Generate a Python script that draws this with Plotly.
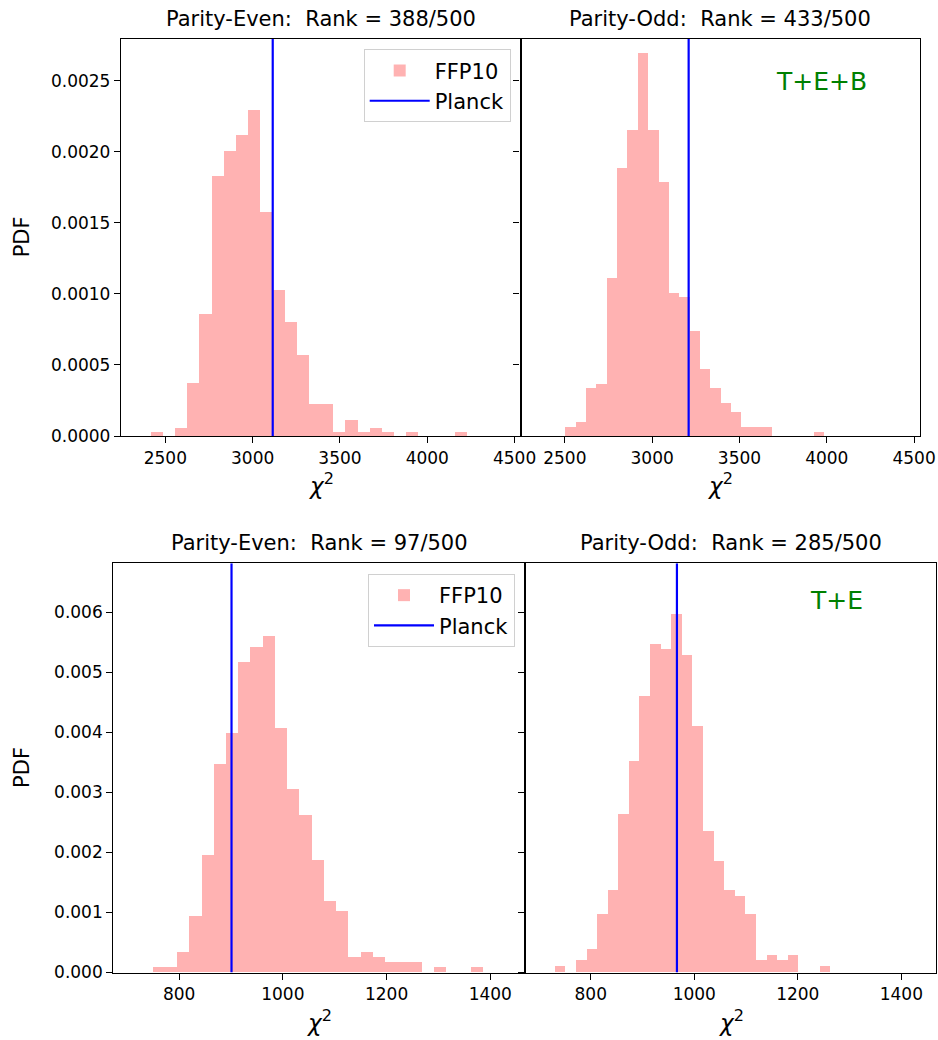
import plotly.graph_objects as go

W, H = 938, 1040
N_SIM = 500

# ---------------- data ----------------
# Top row: T+E+B
tl_title = "Parity-Even:  Rank = 388/500"
tl_edge0, tl_width = 2415.7, 69.73
tl_counts = [1, 0, 2, 13, 30, 64, 70, 74, 80, 55, 36, 28, 20, 8, 8, 1, 4, 1, 2, 1, 0, 1, 0, 0, 0, 1]
tl_planck = 3115

tr_title = "Parity-Odd:  Rank = 433/500"
tr_edge0, tr_width = 2500.0, 59.28
tr_counts = [2, 3, 10, 11, 33, 56, 64, 80, 64, 53, 30, 29, 22, 14, 10, 7, 5, 2, 2, 2, 0, 0, 0, 0, 1]
tr_planck = 3209

# Bottom row: T+E
bl_title = "Parity-Even:  Rank = 97/500"
bl_edge0, bl_width = 749.3, 23.6
bl_counts = [1, 1, 4, 11, 23, 41, 47, 61, 64, 66, 48, 36, 31, 22, 14, 12, 3, 4, 3, 2, 2, 2, 0, 1, 0, 0, 1]
bl_planck = 901

br_title = "Parity-Odd:  Rank = 285/500"
br_edge0, br_width = 730.5, 20.46
br_counts = [1, 0, 2, 4, 10, 14, 27, 36, 47, 56, 55, 61, 54, 42, 24, 19, 14, 13, 10, 2, 3, 2, 3, 0, 0, 1]
br_planck = 966.5

top_xticks = [2500, 3000, 3500, 4000, 4500]
top_yticks = [0.0, 0.0005, 0.0010, 0.0015, 0.0020, 0.0025]
top_yticklabels = ["0.0000", "0.0005", "0.0010", "0.0015", "0.0020", "0.0025"]
bot_xticks = [800, 1000, 1200, 1400]
bot_yticks = [0.0, 0.001, 0.002, 0.003, 0.004, 0.005, 0.006]
bot_yticklabels = ["0.000", "0.001", "0.002", "0.003", "0.004", "0.005", "0.006"]

top_label = "T+E+B"
bot_label = "T+E"

# ---------------- styling / layout ----------------
FONT = "DejaVu Sans"
BAR_COLOR = "rgba(255,0,0,0.3)"
LINE_COLOR = "#0000ff"
TOP_XRANGE = [2246, 4534]
TOP_YRANGE = [0, 0.002797]
BOT_XRANGE = [673, 1467]
BOT_YRANGE = [0, 0.006817]


def px_x(p):
    return p / W


def px_y(p):
    return 1 - p / H


def hist(edge0, width, counts):
    centers = [edge0 + width * (i + 0.5) for i in range(len(counts))]
    dens = [c / (N_SIM * width) for c in counts]
    return centers, dens


fig = go.Figure()

panels = [
    (tl_edge0, tl_width, tl_counts, tl_planck, "x", "y", "legend", True, TOP_YRANGE),
    (tr_edge0, tr_width, tr_counts, tr_planck, "x2", "y2", "legend", False, TOP_YRANGE),
    (bl_edge0, bl_width, bl_counts, bl_planck, "x3", "y3", "legend2", True, BOT_YRANGE),
    (br_edge0, br_width, br_counts, br_planck, "x4", "y4", "legend2", False, BOT_YRANGE),
]

for e0, w, counts, planck, xa, ya, lg, sl, yr in panels:
    cx, dens = hist(e0, w, counts)
    fig.add_trace(go.Bar(
        x=cx, y=dens, width=w, marker=dict(color=BAR_COLOR, line=dict(width=0)),
        name="FFP10", xaxis=xa, yaxis=ya, legend=lg, showlegend=sl,
    ))
    fig.add_trace(go.Scatter(
        x=[planck, planck], y=[yr[0], yr[1]], mode="lines",
        line=dict(color=LINE_COLOR, width=2.2), name="Planck",
        xaxis=xa, yaxis=ya, legend=lg, showlegend=sl,
    ))

axis_common = dict(
    showline=True, linecolor="black", linewidth=1.3, mirror=True,
    ticks="outside", ticklen=6, tickwidth=1.3, tickcolor="black",
    showgrid=False, zeroline=False, automargin=False,
    tickfont=dict(family=FONT, size=17, color="black"),
)

boxes = {
    "1": (121, 520.5, 38.7, 436),
    "2": (520.5, 920, 38.7, 436),
    "3": (113.3, 525, 563.3, 972.5),
    "4": (525, 936, 563.3, 972.5),
}

layout = dict(
    template="none",
    width=W, height=H, autosize=False,
    margin=dict(l=0, r=0, t=0, b=0, pad=0, autoexpand=False),
    paper_bgcolor="white", plot_bgcolor="white",
    bargap=0, barmode="overlay",
    font=dict(family=FONT, color="black"),
)

for k, (x0, x1, y0, y1) in boxes.items():
    suffix = "" if k == "1" else k
    top = k in ("1", "2")
    xr = TOP_XRANGE if top else BOT_XRANGE
    yr = TOP_YRANGE if top else BOT_YRANGE
    xt = top_xticks if top else bot_xticks
    yt = top_yticks if top else bot_yticks
    ytl = top_yticklabels if top else bot_yticklabels
    layout["xaxis" + suffix] = dict(
        axis_common, domain=[px_x(x0), px_x(x1)], range=xr,
        tickvals=xt, ticktext=[str(v) for v in xt],
        anchor="y" + suffix,
    )
    layout["yaxis" + suffix] = dict(
        axis_common, domain=[px_y(y1), px_y(y0)], range=yr,
        tickvals=yt, ticktext=ytl, anchor="x" + suffix,
        showticklabels=k in ("1", "3"),
    )

fig.update_layout(**layout)

legend_style = dict(
    bgcolor="rgba(255,255,255,0.8)", bordercolor="#d0d0d0", borderwidth=1,
    font=dict(family=FONT, size=21, color="black"),
    xanchor="right", yanchor="top", itemwidth=60, tracegroupgap=0,
)
fig.update_layout(
    legend=dict(legend_style, x=px_x(510.7), y=px_y(49.3)),
    legend2=dict(legend_style, x=px_x(515), y=px_y(574)),
)

annotations = []
for title, (x0, x1, y0, y1) in zip([tl_title, tr_title, bl_title, br_title], boxes.values()):
    annotations.append(dict(
        text=title, x=px_x((x0 + x1) / 2), y=px_y(y0 - 6), xref="paper", yref="paper",
        xanchor="center", yanchor="bottom", showarrow=False,
        font=dict(family=FONT, size=21, color="black"),
    ))
    annotations.append(dict(
        text="<i>χ</i><sup>2</sup>", x=px_x((x0 + x1) / 2), y=px_y(y1 + 31),
        xref="paper", yref="paper", xanchor="center", yanchor="top", showarrow=False,
        font=dict(family=FONT, size=23, color="black"),
    ))
for (x0, x1, y0, y1) in [boxes["1"], boxes["3"]]:
    annotations.append(dict(
        text="PDF", x=px_x(22), y=px_y((y0 + y1) / 2), xref="paper", yref="paper",
        xanchor="center", yanchor="middle", textangle=-90, showarrow=False,
        font=dict(family=FONT, size=21, color="black"),
    ))
annotations.append(dict(
    text=top_label, x=px_x(821), y=px_y(82), xref="paper", yref="paper",
    xanchor="center", yanchor="middle", showarrow=False,
    font=dict(family=FONT, size=25, color="#008000"),
))
annotations.append(dict(
    text=bot_label, x=px_x(836), y=px_y(600), xref="paper", yref="paper",
    xanchor="center", yanchor="middle", showarrow=False,
    font=dict(family=FONT, size=25, color="#008000"),
))
fig.update_layout(annotations=annotations)

fig.write_html("out.html", config={"responsive": False}, default_width="938px", default_height="1040px")
